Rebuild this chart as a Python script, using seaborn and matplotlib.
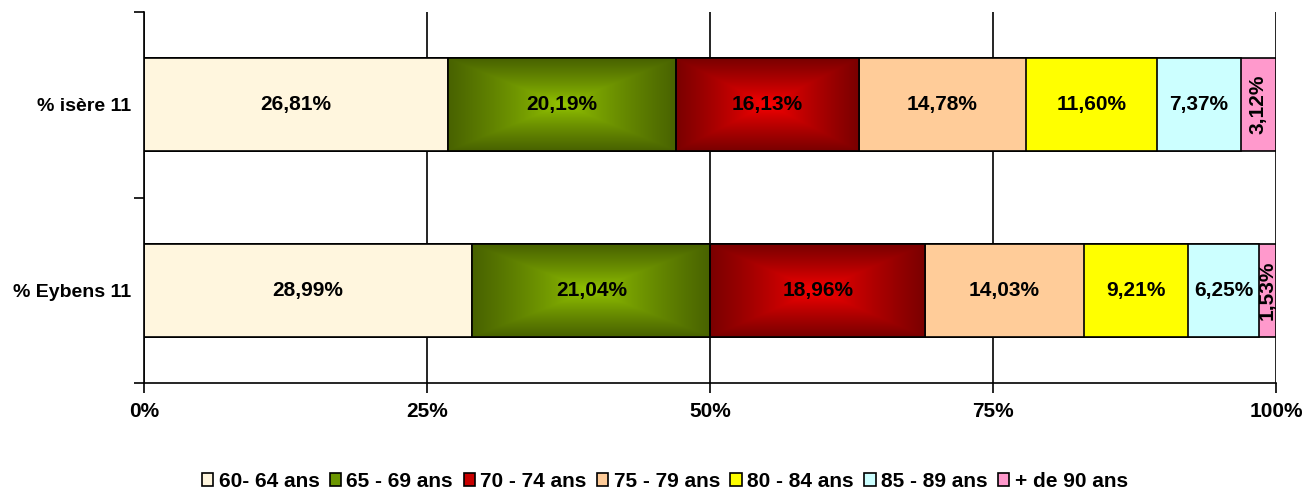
import numpy as np
import pandas as pd
import seaborn as sns
import matplotlib.pyplot as plt
from matplotlib.patches import Patch, Rectangle

# Données
categories = ['% isère 11', '% Eybens 11']
age_groups = ['60- 64 ans', '65 - 69 ans', '70 - 74 ans', '75 - 79 ans',
              '80 - 84 ans', '85 - 89 ans', '+ de 90 ans']
isere = [26.81, 20.19, 16.13, 14.78, 11.60, 7.37, 3.12]
eybens = [28.99, 21.04, 18.96, 14.03, 9.21, 6.25, 1.53]
labels_isere = ['26,81%', '20,19%', '16,13%', '14,78%', '11,60%', '7,37%', '3,12%']
labels_eybens = ['28,99%', '21,04%', '18,96%', '14,03%', '9,21%', '6,25%', '1,53%']

colors = ['#FFF6DE', '#6B9600', '#C80000', '#FFCC99', '#FFFF00', '#CCFFFF', '#FF99CC']
# dégradés (centre, bord) pour les segments 65-69 et 70-74
gradients = {1: ((150, 200, 0), (72, 98, 0)),
             2: ((255, 0, 0), (122, 0, 0))}

sns.set_style('white')
plt.rcParams['font.family'] = ['Liberation Sans', 'DejaVu Sans']
plt.rcParams['font.weight'] = 'bold'
plt.rcParams['text.color'] = 'black'
plt.rcParams['xtick.color'] = 'black'
plt.rcParams['ytick.color'] = 'black'

rows = []
for cat, vals, labs in [(categories[0], isere, labels_isere), (categories[1], eybens, labels_eybens)]:
    cum = np.cumsum(vals)
    for g, v, c, lab in zip(age_groups, vals, cum, labs):
        rows.append({'cat': cat, 'group': g, 'value': v, 'cum': c, 'label': lab})
df = pd.DataFrame(rows)

fig = plt.figure(figsize=(13.06, 4.92), dpi=100)
ax = fig.add_axes([0.1103, 0.2215, 0.8667, 0.7541])

# barres empilées : on dessine les cumuls du plus grand au plus petit
for i in reversed(range(len(age_groups))):
    sub = df[df['group'] == age_groups[i]]
    sns.barplot(data=sub, x='cum', y='cat', order=categories, orient='h',
                color=colors[i], width=0.5, edgecolor='black', linewidth=1.2,
                errorbar=None, saturation=1, ax=ax)


def gradient_img(center, edge, n=120, m=300):
    u = np.abs(np.linspace(-1, 1, m))[None, :]
    v = np.abs(np.linspace(-1, 1, n))[:, None]
    t = np.maximum(u, v) ** 0.8
    c = np.array(center) / 255
    e = np.array(edge) / 255
    return c * (1 - t[..., None]) + e * t[..., None]


for yi, cat in enumerate(categories):
    sub = df[df['cat'] == cat].reset_index(drop=True)
    for j, r in sub.iterrows():
        left = r['cum'] - r['value']
        if j in gradients:
            img = gradient_img(*gradients[j])
            ax.imshow(img, extent=[left, r['cum'], yi + 0.25, yi - 0.25],
                      aspect='auto', zorder=2, interpolation='bilinear')
            ax.add_patch(Rectangle((left, yi - 0.25), r['value'], 0.5, fill=False,
                                   edgecolor='black', linewidth=1.2, zorder=3))
        rot = 90 if j == len(age_groups) - 1 else 0
        ax.text(left + r['value'] / 2, yi, r['label'], ha='center', va='center',
                fontsize=15, fontweight='bold', rotation=rot, zorder=4)

ax.set_xlim(0, 100)
ax.set_ylim(1.5, -0.5)
ax.set_xticks([0, 25, 50, 75, 100])
ax.set_xticklabels(['0%', '25%', '50%', '75%', '100%'], fontsize=15, fontweight='bold')
ax.set_yticks([0, 1])
ax.set_yticklabels(categories, fontsize=14, fontweight='bold')
ax.set_yticks([-0.5, 0.5, 1.5], minor=True)
ax.tick_params(axis='y', which='major', length=0, pad=9)
ax.tick_params(axis='y', which='minor', length=7, width=1.2, direction='out', color='black', left=True)
ax.tick_params(axis='x', length=7, width=1.2, direction='out', color='black', bottom=True, pad=7)
ax.set_xlabel('')
ax.set_ylabel('')

ax.grid(axis='x', color='black', linewidth=1.2)
ax.grid(axis='y', visible=False)
ax.set_axisbelow(True)
for s in ['top', 'right']:
    ax.spines[s].set_visible(False)
for s in ['left', 'bottom']:
    ax.spines[s].set_color('black')
    ax.spines[s].set_linewidth(1.2)

handles = [Patch(facecolor=c, edgecolor='black', linewidth=1.2) for c in colors]
fig.legend(handles, age_groups, loc='center', bbox_to_anchor=(0.509, 0.022), ncol=7,
           frameon=False, handlelength=0.55, handleheight=0.55,
           handletextpad=0.25, columnspacing=0.5, prop={'weight': 'bold', 'size': 15})

plt.savefig('out.png', dpi=100)
